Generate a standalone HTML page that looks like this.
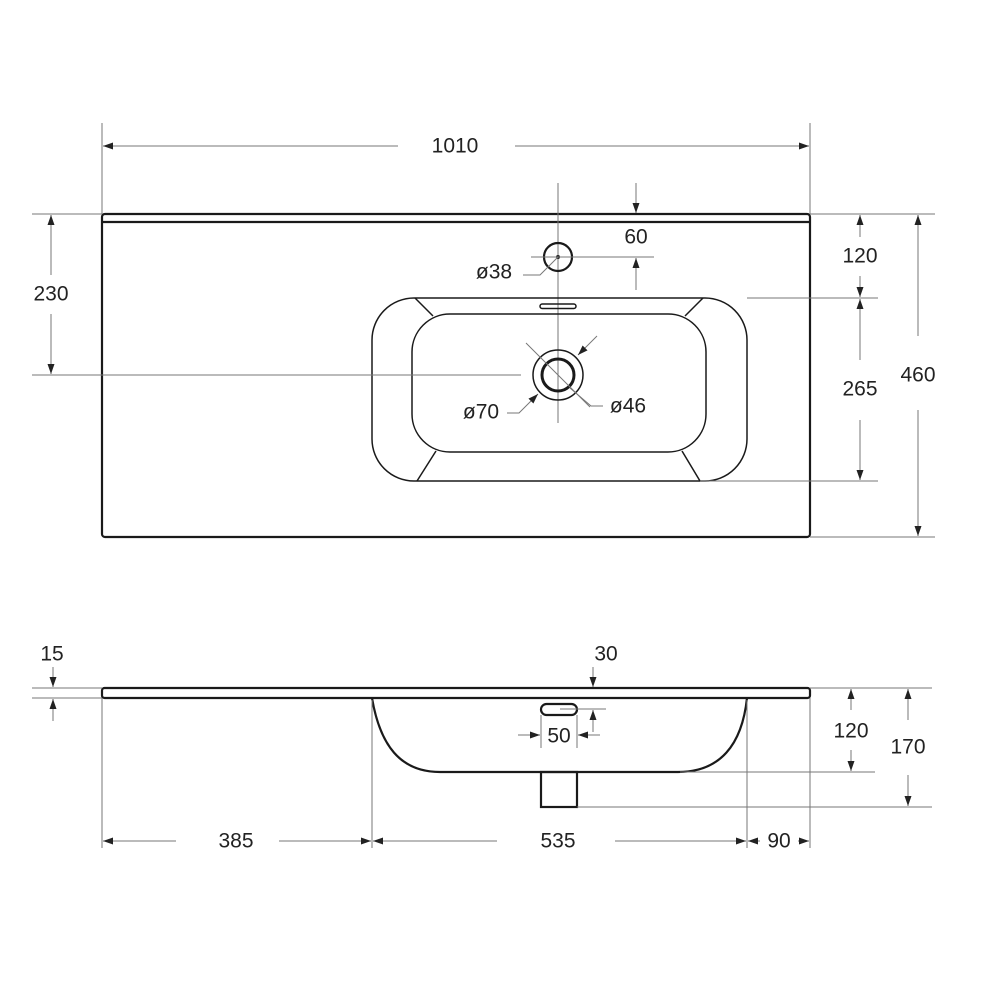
<!DOCTYPE html>
<html><head><meta charset="utf-8"><style>
html,body{margin:0;padding:0;background:#fff;}
svg{display:block;}
text{font-family:"Liberation Sans",sans-serif;font-size:21px;fill:#222;text-anchor:middle;dominant-baseline:central;}
.t{stroke:#777;stroke-width:1;fill:none;}
.k{stroke:#1a1a1a;stroke-width:2.2;fill:none;}
.m{stroke:#1a1a1a;stroke-width:1.5;fill:none;}
</style></head><body>
<svg width="1000" height="1000" viewBox="0 0 1000 1000" xmlns="http://www.w3.org/2000/svg">
<defs>
<marker id="a" viewBox="0 0 10 10" refX="10" refY="5" markerWidth="10" markerHeight="10" markerUnits="userSpaceOnUse" orient="auto-start-reverse"><path d="M0,1.5 L10,5 L0,8.5 z" fill="#222"/></marker>
</defs>
<!-- TOP VIEW -->
<rect x="102" y="214" width="708" height="323" rx="3" class="k"/>
<line x1="102" y1="222" x2="810" y2="222" class="k"/>
<line x1="102" y1="123" x2="102" y2="214" class="t"/>
<line x1="810" y1="123" x2="810" y2="214" class="t"/>
<line x1="398" y1="146" x2="103" y2="146" class="t" marker-end="url(#a)"/>
<line x1="515" y1="146" x2="809" y2="146" class="t" marker-end="url(#a)"/>
<text x="455" y="146">1010</text>
<line x1="558" y1="183" x2="558" y2="423" class="t"/>
<circle cx="558" cy="257" r="14" class="k"/>
<circle cx="558" cy="257" r="2" fill="#222"/>
<line x1="531" y1="257" x2="654" y2="257" class="t"/>
<line x1="636" y1="183" x2="636" y2="213" class="t" marker-end="url(#a)"/>
<line x1="636" y1="290" x2="636" y2="258" class="t" marker-end="url(#a)"/>
<text x="636" y="237">60</text>
<text x="494" y="272">ø38</text>
<polyline points="523,275 540,275 558,257" class="t"/>
<rect x="372" y="298" width="375" height="183" rx="42" class="m"/>
<rect x="412" y="314" width="294" height="138" rx="38" class="m"/>
<line x1="415" y1="298" x2="433" y2="316" class="m"/>
<line x1="703" y1="298" x2="685" y2="316" class="m"/>
<line x1="417" y1="481" x2="436" y2="451" class="m"/>
<line x1="700" y1="481" x2="682" y2="451" class="m"/>
<rect x="540" y="304" width="36" height="4.5" rx="2.2" class="m"/>
<circle cx="558" cy="375" r="25" class="m"/>
<circle cx="558" cy="375" r="16" class="k" style="stroke-width:3"/>
<line x1="526" y1="343" x2="590" y2="407" class="t"/>
<line x1="32" y1="375" x2="521" y2="375" class="t"/>
<line x1="597" y1="336" x2="578" y2="355" class="t" marker-end="url(#a)"/>
<polyline points="507,413 519,413 538,394" class="t" marker-end="url(#a)"/>
<text x="481" y="412">ø70</text>
<polyline points="603,406 591,406 570,388" class="t"/>
<text x="628" y="406">ø46</text>
<line x1="32" y1="214" x2="102" y2="214" class="t"/>
<line x1="51" y1="275" x2="51" y2="215" class="t" marker-end="url(#a)"/>
<line x1="51" y1="314" x2="51" y2="374" class="t" marker-end="url(#a)"/>
<text x="51" y="294">230</text>
<line x1="810" y1="214" x2="935" y2="214" class="t"/>
<line x1="747" y1="298" x2="878" y2="298" class="t"/>
<line x1="700" y1="481" x2="878" y2="481" class="t"/>
<line x1="810" y1="537" x2="935" y2="537" class="t"/>
<line x1="860" y1="237" x2="860" y2="215" class="t" marker-end="url(#a)"/>
<line x1="860" y1="276" x2="860" y2="297" class="t" marker-end="url(#a)"/>
<text x="860" y="256">120</text>
<line x1="860" y1="360" x2="860" y2="299" class="t" marker-end="url(#a)"/>
<line x1="860" y1="420" x2="860" y2="480" class="t" marker-end="url(#a)"/>
<text x="860" y="389">265</text>
<line x1="918" y1="336" x2="918" y2="215" class="t" marker-end="url(#a)"/>
<line x1="918" y1="410" x2="918" y2="536" class="t" marker-end="url(#a)"/>
<text x="918" y="375">460</text>
<!-- SIDE VIEW -->
<rect x="102" y="688" width="708" height="10" rx="2.5" class="k"/>
<path d="M372,698 C380,745 400,772 440,772 L678,772 C720,772 742,745 747,698" class="k"/>
<rect x="541" y="772" width="36" height="35" class="k"/>
<rect x="541" y="704" width="36" height="11" rx="5.5" class="k"/>
<line x1="32" y1="688" x2="102" y2="688" class="t"/>
<line x1="32" y1="698" x2="102" y2="698" class="t"/>
<line x1="53" y1="667" x2="53" y2="687" class="t" marker-end="url(#a)"/>
<line x1="53" y1="721" x2="53" y2="699" class="t" marker-end="url(#a)"/>
<text x="52" y="654">15</text>
<line x1="593" y1="667" x2="593" y2="687" class="t" marker-end="url(#a)"/>
<text x="606" y="654">30</text>
<line x1="541" y1="715" x2="541" y2="748" class="t"/>
<line x1="577" y1="715" x2="577" y2="748" class="t"/>
<line x1="518" y1="735" x2="540" y2="735" class="t" marker-end="url(#a)"/>
<line x1="600" y1="735" x2="578" y2="735" class="t" marker-end="url(#a)"/>
<text x="559" y="736">50</text>
<line x1="560" y1="709" x2="606" y2="709" class="t"/>
<line x1="593" y1="732" x2="593" y2="710" class="t" marker-end="url(#a)"/>
<line x1="810" y1="688" x2="932" y2="688" class="t"/>
<line x1="680" y1="772" x2="875" y2="772" class="t"/>
<line x1="577" y1="807" x2="932" y2="807" class="t"/>
<line x1="851" y1="710" x2="851" y2="689" class="t" marker-end="url(#a)"/>
<line x1="851" y1="750" x2="851" y2="771" class="t" marker-end="url(#a)"/>
<text x="851" y="731">120</text>
<line x1="908" y1="720" x2="908" y2="689" class="t" marker-end="url(#a)"/>
<line x1="908" y1="775" x2="908" y2="806" class="t" marker-end="url(#a)"/>
<text x="908" y="747">170</text>
<line x1="102" y1="698" x2="102" y2="848" class="t"/>
<line x1="372" y1="700" x2="372" y2="848" class="t"/>
<line x1="747" y1="700" x2="747" y2="848" class="t"/>
<line x1="810" y1="698" x2="810" y2="848" class="t"/>
<line x1="176" y1="841" x2="103" y2="841" class="t" marker-end="url(#a)"/>
<line x1="279" y1="841" x2="371" y2="841" class="t" marker-end="url(#a)"/>
<text x="236" y="841">385</text>
<line x1="497" y1="841" x2="373" y2="841" class="t" marker-end="url(#a)"/>
<line x1="615" y1="841" x2="746" y2="841" class="t" marker-end="url(#a)"/>
<text x="558" y="841">535</text>
<line x1="760" y1="841" x2="748" y2="841" class="t" marker-end="url(#a)"/>
<line x1="798" y1="841" x2="809" y2="841" class="t" marker-end="url(#a)"/>
<text x="779" y="841">90</text>
</svg>
</body></html>
